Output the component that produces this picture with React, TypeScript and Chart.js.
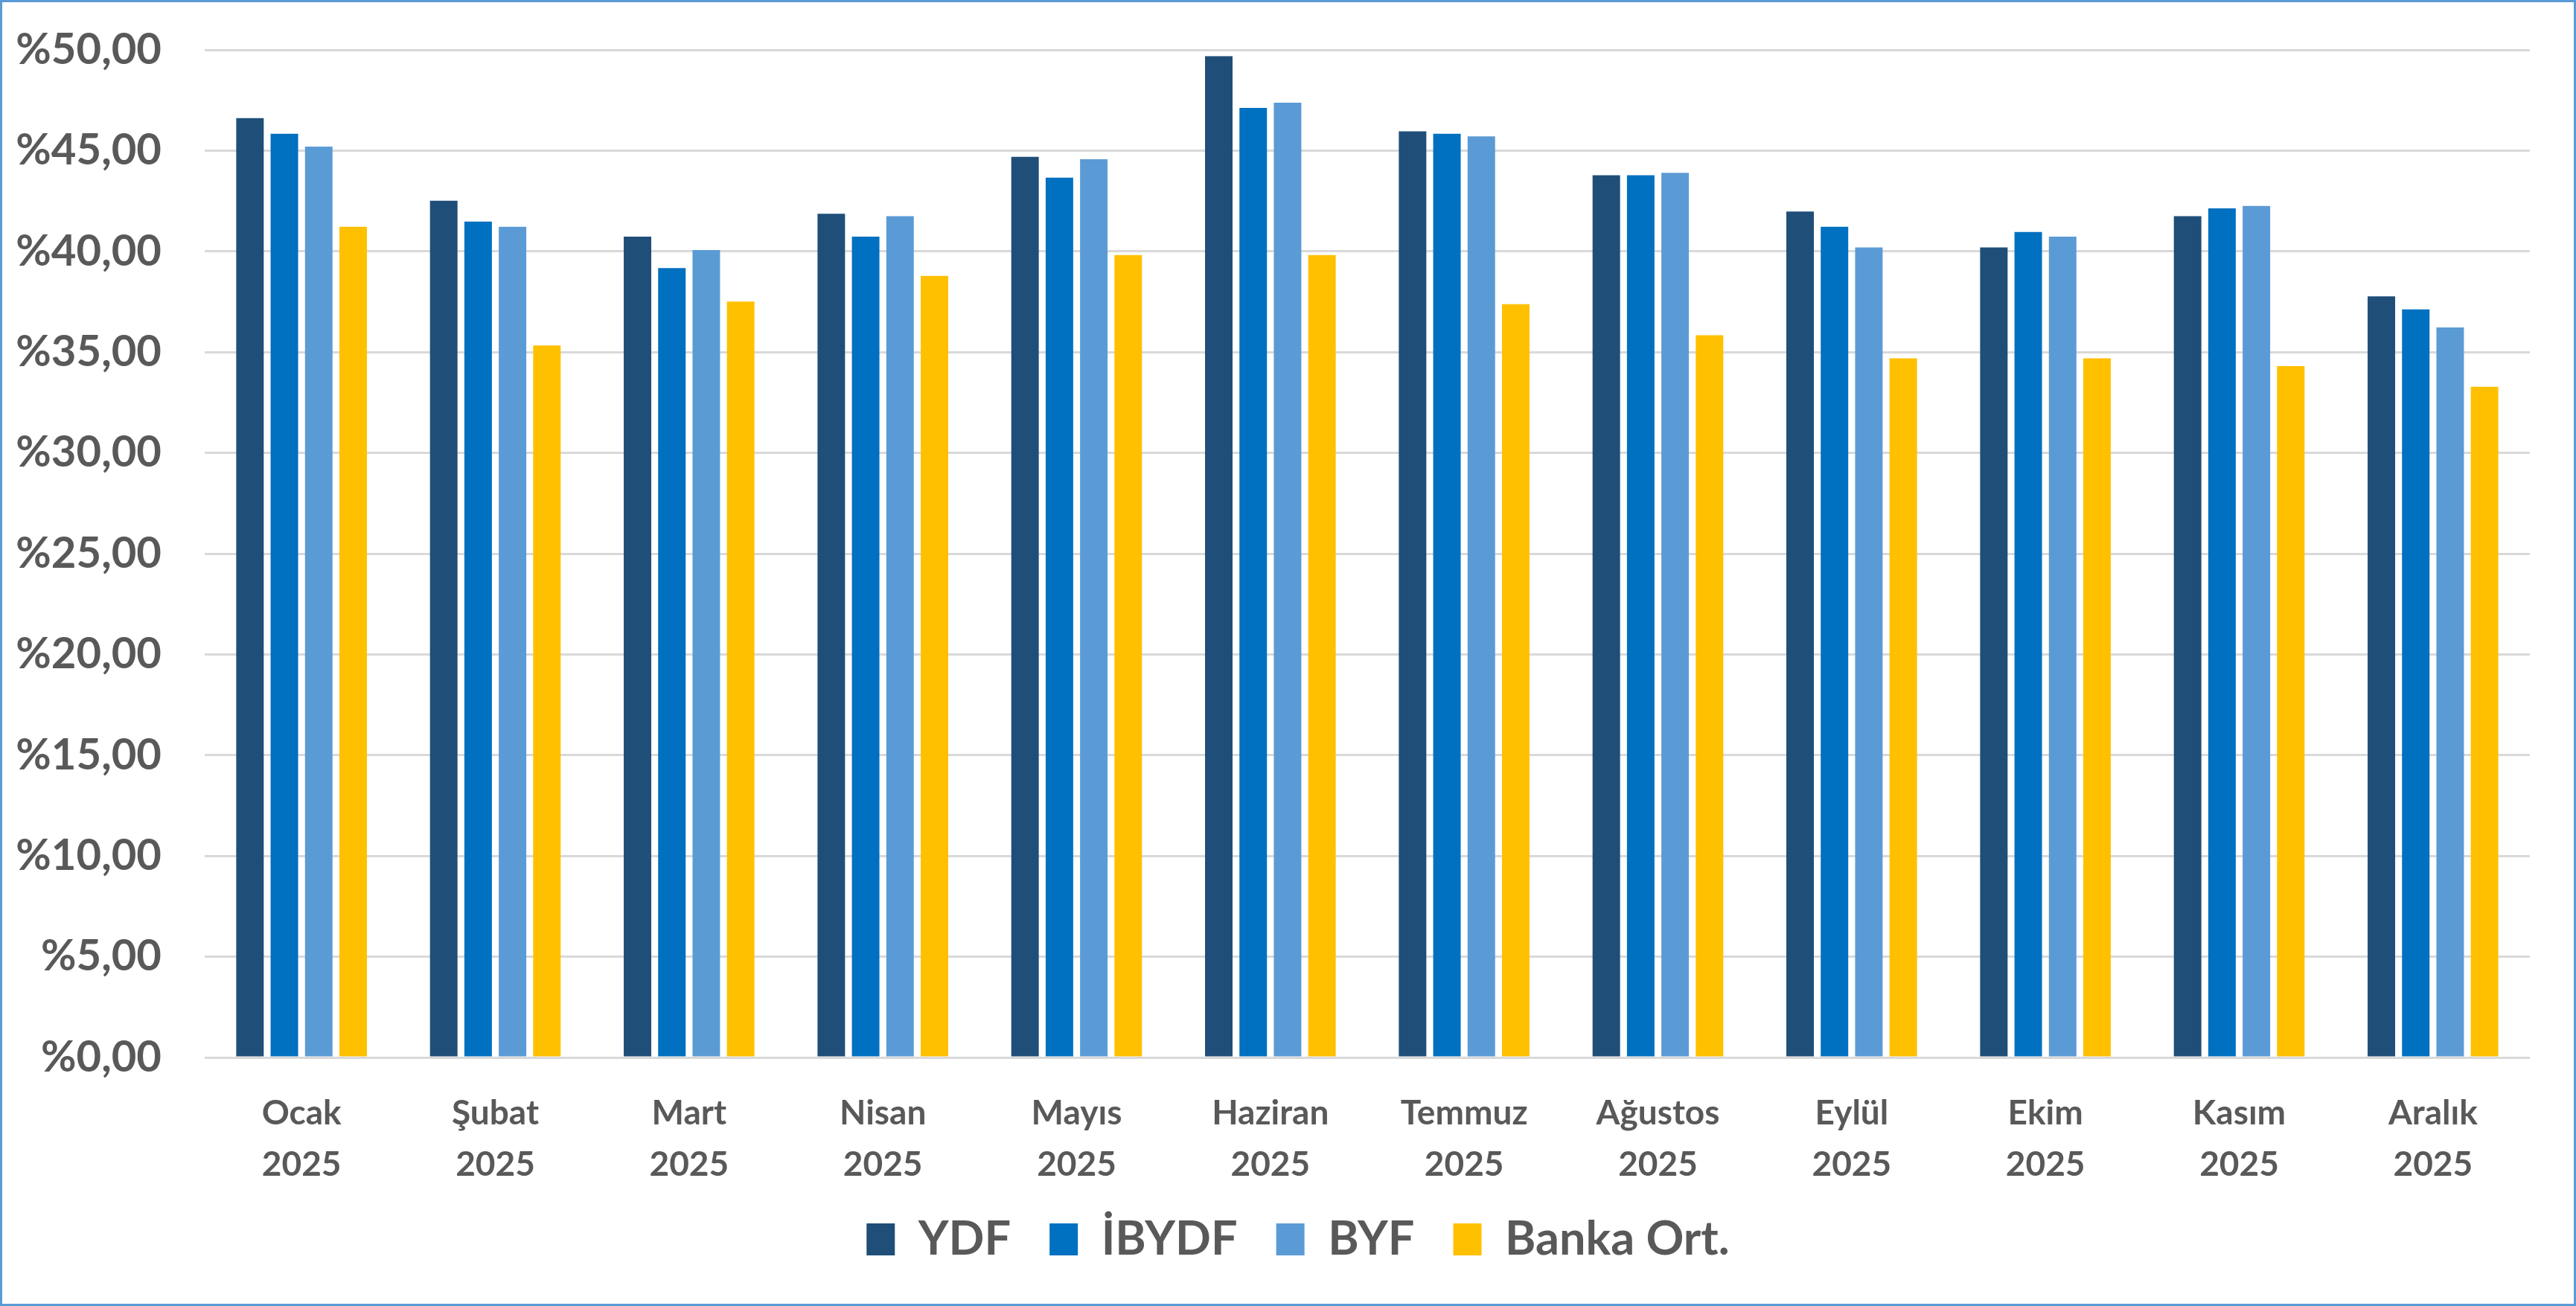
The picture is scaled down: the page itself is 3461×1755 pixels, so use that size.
import { useEffect, useRef } from 'react';
import { Chart, registerables } from 'chart.js';

Chart.register(...registerables);

const months = ['Ocak', 'Şubat', 'Mart', 'Nisan', 'Mayıs', 'Haziran', 'Temmuz', 'Ağustos', 'Eylül', 'Ekim', 'Kasım', 'Aralık'];
const year = '2025';
const seriesNames = ['YDF', 'İBYDF', 'BYF', 'Banka Ort.'];
const seriesColors = ['#1F4E79', '#0070C0', '#5B9BD5', '#FFC000'];
const ydf = [46.61, 42.51, 40.73, 41.87, 44.69, 49.69, 45.96, 43.78, 41.98, 40.2, 41.75, 37.77];
const ibydf = [45.84, 41.48, 39.17, 40.73, 43.66, 47.12, 45.84, 43.78, 41.22, 40.96, 42.13, 37.12];
const byf = [45.2, 41.22, 40.07, 41.75, 44.57, 47.38, 45.71, 43.9, 40.2, 40.73, 42.25, 36.23];
const bankaOrt = [41.22, 35.33, 37.51, 38.78, 39.82, 39.82, 37.38, 35.84, 34.69, 34.69, 34.31, 33.28];
const yMin = 0;
const yMax = 50;
const yStep = 5;

const W = 3461;
const H = 1755;
const TEXT = '#595959';
const FONT = 'Lato, "Open Sans", sans-serif';

export default function App() {
  const ref = useRef<HTMLCanvasElement | null>(null);

  useEffect(() => {
    document.body.style.margin = '0';
    const canvas = ref.current;
    if (!canvas) return;
    const values = [ydf, ibydf, byf, bankaOrt];
    const chart = new Chart(canvas, {
      type: 'bar',
      data: {
        labels: months.map((m) => [m, year]),
        datasets: seriesNames.map((name, i) => ({
          label: name,
          data: values[i],
          backgroundColor: seriesColors[i],
          borderWidth: 0,
          barPercentage: 0.8,
          categoryPercentage: 0.71,
          yAxisID: 'y',
        })),
      },
      options: {
        animation: false,
        responsive: false,
        devicePixelRatio: 1,
        layout: { padding: { top: 67, right: -27, bottom: 48, left: 0 } },
        plugins: {
          tooltip: { enabled: false },
          legend: {
            position: 'bottom',
            labels: {
              boxWidth: 38,
              boxHeight: 43,
              padding: 52,
              color: TEXT,
              font: { family: FONT, size: 63, weight: 'bold' },
            },
          },
        },
        scales: {
          x: {
            grid: { display: false },
            border: { display: false },
            ticks: {
              color: TEXT,
              padding: 33,
              maxRotation: 0,
              autoSkip: false,
              font: { family: FONT, size: 46, weight: 'bold', lineHeight: 1.5 },
            },
            afterFit: (scale: any) => {
              scale.height = 161;
            },
          },
          y: {
            min: yMin,
            max: yMax,
            border: { display: false },
            grid: { color: '#D9D9D9', lineWidth: 3, drawTicks: false },
            ticks: {
              stepSize: yStep,
              color: TEXT,
              padding: 58,
              font: { family: FONT, size: 58, weight: 'bold' },
              callback: (v: any) => '%' + Number(v).toFixed(2).replace('.', ','),
            },
            afterFit: (scale: any) => {
              scale.width = 275;
              scale.paddingTop = 0;
              scale.paddingBottom = 0;
            },
          },
          yRight: {
            position: 'right',
            min: yMin,
            max: yMax,
            grid: { display: false },
            border: { display: false },
            ticks: { display: false },
            afterFit: (scale: any) => {
              scale.width = 89;
              scale.paddingTop = 0;
              scale.paddingBottom = 0;
            },
          },
        },
      },
    });
    return () => chart.destroy();
  }, []);

  return (
    <div style={{ position: 'fixed', left: 0, top: 0, width: W, height: H, background: '#fff' }}>
      <canvas ref={ref} width={W} height={H} style={{ width: W, height: H, display: 'block' }} />
      <div
        style={{
          position: 'absolute',
          left: 0,
          top: 0,
          width: W,
          height: H,
          boxSizing: 'border-box',
          border: '3px solid #5B9BD5',
          pointerEvents: 'none',
        }}
      />
    </div>
  );
}
